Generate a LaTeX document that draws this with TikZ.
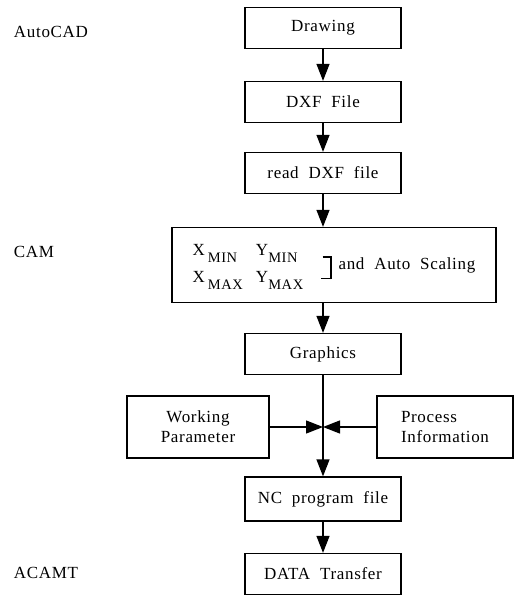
\documentclass[tikz,border=0pt]{standalone}
\usepackage{fontspec}
\setmainfont{Liberation Serif}[WordSpace=2.0,LetterSpace=4]
\usetikzlibrary{arrows.meta,positioning}
\newcommand{\lowcap}[1]{\raisebox{-7pt}{\fontsize{14.5}{15}\selectfont #1}}
\newcommand{\closebrack}{\rule[-10pt]{9pt}{1.3pt}\rule[-10pt]{1.3pt}{23pt}\llap{\rule[11.7pt]{9pt}{1.3pt}}}

\begin{document}
\begin{tikzpicture}[x=1pt, y=-1pt, line width=1.3pt, align=center,
    font=\fontsize{17}{20}\selectfont,
    >={Triangle[length=17pt,width=13pt]},
    block/.style={draw=black, minimum width=156pt, minimum height=41pt, inner sep=2pt}]
    \useasboundingbox (0,0) rectangle (517,597);

    % stage labels
    \node(autocad) [anchor=west] at (10,32)  {AutoCAD};
    \node(camlab)  [anchor=west] at (10,252) {CAM};
    \node(acamt)   [anchor=west] at (10,573) {ACAMT};

    % main column
    \node(draw)  [block] at (323,28)                            {Drawing};
    \node(dxf)   [block, below of=draw, node distance=74pt]     {DXF File};
    \node(read)  [block, below of=dxf, node distance=71pt]      {read DXF file};
    \node(cam)   [block, below of=read, node distance=92pt, xshift=11pt,
                  minimum width=324pt, minimum height=75pt]
        {\begin{tabular}{@{}l@{\,}l@{\,}l@{}l@{}}
           X & \lowcap{MIN}\hspace{16pt} & Y & \lowcap{MIN}\\[7pt]
           X & \lowcap{MAX} & Y & \lowcap{MAX}
         \end{tabular}\hspace{18pt}\closebrack\hspace{7pt}and Auto Scaling};
    \node(graph) [block, below of=read, node distance=181pt]    {Graphics};
    \node(jn)    [coordinate, below of=graph, node distance=73pt] {};
    \node(nc)    [block, below of=graph, node distance=145pt, minimum height=44pt] {NC program file};
    \node(data)  [block, below of=nc, node distance=75pt]       {DATA Transfer};

    % side inputs
    \node(work)  [block, left of=jn, node distance=125pt,
                  minimum width=142pt, minimum height=62pt]     {Working\\Parameter};
    \node(proc)  [block, right of=jn, node distance=122pt, align=left,
                  minimum width=136pt, minimum height=62pt]     {Process\\Information};

    % arrows
    \draw [->][draw=black] (draw) to (dxf);
    \draw [->][draw=black] (dxf) to (read);
    \draw [->][draw=black] (read) to (read |- cam.north);
    \draw [->][draw=black] (graph |- cam.south) to (graph);
    \draw [->][draw=black] (graph) to (nc);
    \draw [->][draw=black] (work) to (jn);
    \draw [->][draw=black] (proc) to (jn);
    \draw [->][draw=black] (nc) to (data);

\end{tikzpicture}
\end{document}
